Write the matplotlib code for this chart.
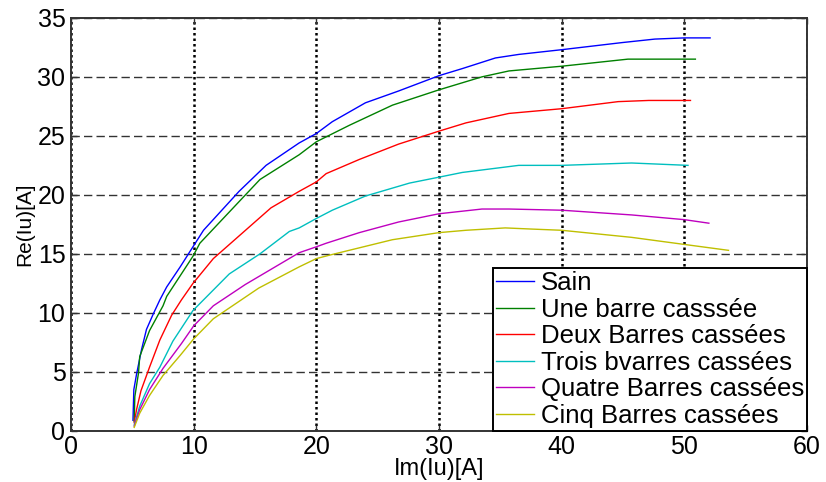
import numpy as np
import matplotlib
matplotlib.use("Agg")
from matplotlib import pyplot as plt

plt.rcParams['font.family'] = ['Liberation Sans', 'DejaVu Sans']

# Rotor fault curves: Re(Iu) versus Im(Iu) for each broken-bar case
sain_x = [5.05, 5.12, 5.34, 5.75, 6.15, 6.7, 7.24, 7.8, 8.9, 9.94, 10.8, 13.7, 15.9, 18.6, 20.0,
          21.3, 24.0, 26.7, 30.0, 31.9, 34.6, 36.5, 40.0, 44.9, 47.6, 50.0, 52.1]
sain_y = [0.9, 3.5, 4.8, 6.9, 8.6, 9.9, 11.1, 12.2, 13.9, 15.6, 17.0, 20.3, 22.5, 24.4, 25.2,
          26.2, 27.8, 28.8, 30.1, 30.7, 31.6, 31.9, 32.3, 32.9, 33.2, 33.3, 33.3]

une_x = [5.15, 5.2, 5.5, 5.6, 6.4, 7.5, 7.8, 9.94, 10.5, 15.4, 18.6, 20.0, 22.7, 26.2, 30.0,
         33.5, 35.7, 40.0, 45.4, 50.9]
une_y = [0.8, 2.9, 4.9, 6.3, 8.5, 10.6, 11.4, 14.8, 15.9, 21.3, 23.4, 24.5, 25.9, 27.6, 28.9,
         30.0, 30.5, 30.9, 31.5, 31.5]

deux_x = [5.15, 5.34, 5.7, 6.4, 7.24, 8.2, 9.0, 9.94, 11.6, 16.3, 18.6, 20.0, 20.8, 23.5, 26.7,
          30.0, 32.2, 35.7, 40.0, 44.6, 47.1, 50.5]
deux_y = [0.7, 1.8, 3.4, 5.4, 7.7, 9.8, 11.1, 12.5, 14.6, 18.9, 20.3, 21.1, 21.8, 23.0, 24.3,
          25.4, 26.1, 26.9, 27.3, 27.9, 28.0, 28.0]

trois_x = [5.15, 5.6, 6.4, 7.24, 8.3, 9.94, 12.9, 15.4, 17.8, 18.6, 20.0, 21.3, 24.0, 27.6,
           30.0, 31.9, 36.5, 40.0, 45.7, 50.3]
trois_y = [0.5, 2.1, 4.0, 5.4, 7.6, 10.2, 13.3, 15.0, 16.9, 17.2, 18.0, 18.7, 19.9, 21.0,
           21.5, 21.9, 22.5, 22.5, 22.7, 22.5]

quatre_x = [5.15, 5.6, 6.4, 7.5, 9.0, 10.0, 11.6, 14.2, 18.6, 20.0, 20.8, 23.5, 26.7, 30.0,
            33.5, 35.7, 40.0, 45.7, 50.0, 52.0]
quatre_y = [0.4, 1.8, 3.5, 5.3, 7.4, 8.9, 10.6, 12.4, 15.1, 15.6, 15.9, 16.8, 17.7, 18.4,
            18.8, 18.8, 18.7, 18.3, 17.9, 17.6]

cinq_x = [5.15, 5.6, 6.4, 7.5, 8.9, 10.0, 11.6, 15.3, 18.6, 20.0, 21.1, 26.2, 30.0, 32.2,
          35.4, 37.6, 40.0, 45.7, 50.0, 53.6]
cinq_y = [0.3, 1.5, 3.0, 4.7, 6.4, 7.8, 9.5, 12.1, 13.9, 14.6, 14.9, 16.2, 16.8, 17.0,
          17.2, 17.1, 17.0, 16.4, 15.8, 15.3]

labels = ['Sain', 'Une barre casssée', 'Deux Barres cassées', 'Trois bvarres cassées',
          'Quatre Barres cassées', 'Cinq Barres cassées']
colors = [(0, 0, 1), (0, 0.5, 0), (1, 0, 0), (0, 0.75, 0.75), (0.75, 0, 0.75), (0.75, 0.75, 0)]

series = [(sain_x, sain_y), (une_x, une_y), (deux_x, deux_y),
          (trois_x, trois_y), (quatre_x, quatre_y), (cinq_x, cinq_y)]

fig = plt.figure(figsize=(8.26, 4.82), dpi=100)
ax = fig.add_axes([0.086, 0.106, 0.891, 0.857])

for (xs, ys), lab, col in zip(series, labels, colors):
    ax.plot(xs, ys, color=col, lw=1.0, label=lab)

ax.set_xlim(0, 60)
ax.set_ylim(0, 35)
ax.set_xticks(np.arange(0, 61, 10))
ax.set_yticks(np.arange(0, 36, 5))

# dotted vertical grid, dashed horizontal grid
ax.xaxis.grid(True, color='black', linestyle=(0, (1, 1.2)), lw=1.8)
ax.yaxis.grid(True, color='#333333', linestyle=(0, (6, 3)), lw=1.0)
ax.set_axisbelow(True)

for sp in ax.spines.values():
    sp.set_color('#333333')
    sp.set_linewidth(1.4)

ax.tick_params(direction='in', length=4, width=1, top=True, right=True,
               labelsize=18, pad=4, colors='#333333', labelcolor='black')
ax.tick_params(axis='x', pad=3)

ax.set_xlabel('Im(Iu)[A]', fontsize=17, labelpad=-1)
ax.set_ylabel('Re(Iu)[A]', fontsize=15)
ax.yaxis.set_label_coords(-0.05, 0.5)

leg = ax.legend(loc='lower right', fontsize=18.5, borderaxespad=0, borderpad=0.12,
                labelspacing=0.1, handlelength=1.5, handletextpad=0.25,
                fancybox=False, framealpha=1)
leg.get_frame().set_edgecolor('black')
leg.get_frame().set_linewidth(1.4)

fig.savefig('out.png', dpi=100)
